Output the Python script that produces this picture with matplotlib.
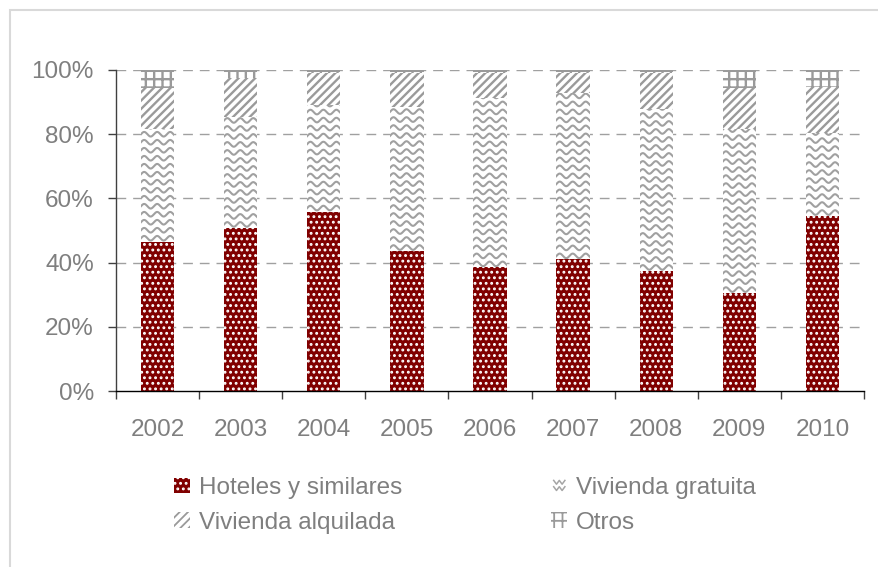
import numpy as np
import matplotlib
matplotlib.use("Agg")
import matplotlib.pyplot as plt
from matplotlib.patches import Rectangle
from matplotlib.lines import Line2D
from matplotlib.legend_handler import HandlerBase
from matplotlib.ticker import FixedLocator, FuncFormatter

# ---- data (percent of total) ----
years = ["2002", "2003", "2004", "2005", "2006", "2007", "2008", "2009", "2010"]
hoteles = [46.5, 50.8, 55.9, 43.6, 38.5, 41.0, 37.4, 30.5, 54.5]
gratuita = [35.1, 34.5, 33.2, 44.8, 52.7, 51.7, 50.4, 51.1, 26.0]
alquilada = [12.9, 12.3, 9.9, 10.6, 7.8, 6.3, 11.2, 12.7, 14.3]
otros = [5.5, 2.4, 1.0, 1.0, 1.0, 1.0, 1.0, 5.7, 5.2]
labels = ["Hoteles y similares", "Vivienda gratuita", "Vivienda alquilada", "Otros"]
yticks = [0, 20, 40, 60, 80, 100]

plt.rcParams['font.family'] = ['Liberation Sans', 'DejaVu Sans']
plt.rcParams['hatch.linewidth'] = 1.3

W, H, DPI = 879, 567, 100
fig = plt.figure(figsize=(W / DPI, H / DPI), dpi=DPI)
ax = fig.add_axes([116 / W, 1 - 391 / H, 748 / W, 321 / H])

TXT = '#7f7f7f'
RED = '#800000'
HATCH_GRAY = '#9a9a9a'
FS = 17.5

x = np.arange(len(years))
width = 0.4
h = np.array(hoteles)
g = np.array(gratuita)
a = np.array(alquilada)
o = np.array(otros)

b1 = ax.bar(x, h, width, color=RED, edgecolor='white', hatch='...', linewidth=0, zorder=2)
b2 = ax.bar(x, g, width, bottom=h, color='white', edgecolor='white', linewidth=0, zorder=2)
b3 = ax.bar(x, a, width, bottom=h + g, color='white', edgecolor=HATCH_GRAY, hatch='////', linewidth=0, zorder=2)
b4 = ax.bar(x, o, width, bottom=h + g + a, color='white', edgecolor=HATCH_GRAY, hatch='++', linewidth=0, zorder=2)

for p in list(b3.patches) + list(b4.patches):
    if hasattr(p, 'set_hatch_linewidth'):
        p.set_hatch_linewidth(1.7)

ax.set_xlim(-0.5, len(years) - 0.5)
ax.set_ylim(0, 100)

# wave pattern for "Vivienda gratuita"
px_x = 748 / len(years)
px_y = 321 / 100.0
spacing_px, wl_px, amp_px = 8.0, 13.0, 2.3
for rect in b2.patches:
    rx, ry, rw, rh = rect.get_x(), rect.get_y(), rect.get_width(), rect.get_height()
    xs = np.linspace(rx - 0.05, rx + rw + 0.05, 200)
    n = int(rh * px_y / spacing_px) + 2
    for k in range(n):
        y0 = ry + (k * spacing_px + 3.5) / px_y
        ys = y0 + amp_px / px_y * np.sin(2 * np.pi * (xs - rx) * px_x / wl_px)
        ln, = ax.plot(xs, ys, color='#a0a0a0', lw=1.5, zorder=3, solid_capstyle='butt')
        ln.set_clip_path(rect)

# grid
for yv in yticks[1:]:
    ax.axhline(yv, color='#a0a0a0', lw=1.0, linestyle=(0, (7, 5)), zorder=1)

# spines & ticks
for s in ['top', 'right']:
    ax.spines[s].set_visible(False)
ax.spines['left'].set_color('#404040')
ax.spines['left'].set_linewidth(1.0)
ax.spines['bottom'].set_color('black')
ax.spines['bottom'].set_linewidth(1.0)

ax.yaxis.set_major_locator(FixedLocator(yticks))
ax.yaxis.set_major_formatter(FuncFormatter(lambda v, p: f"{int(v)}%"))
ax.tick_params(axis='y', direction='out', length=6, width=1, color='#404040',
               labelsize=FS, labelcolor=TXT, pad=10)
ax.set_xticks(x)
ax.set_xticklabels(years)
ax.tick_params(axis='x', which='major', length=0, labelsize=FS, labelcolor=TXT, pad=20)
ax.set_xticks(np.arange(-0.5, len(years)), minor=True)
ax.tick_params(axis='x', which='minor', direction='out', length=6, width=1, color='#404040')


# legend
class HandlerWave(HandlerBase):
    def create_artists(self, legend, orig_handle, xdescent, ydescent, width, height, fontsize, trans):
        arts = []
        r = Rectangle((-xdescent, -ydescent), width, height, facecolor='white', edgecolor='none', transform=trans)
        arts.append(r)
        for k in range(2):
            yy = -ydescent + height * (0.3 + 0.4 * k)
            xs = np.linspace(-xdescent + width * 0.15, -xdescent + width * 0.85, 5)
            ys = yy + np.array([0.15, -0.15, 0.15, -0.15, 0.15]) * height * 0.8
            ln = Line2D(xs, ys, color='#a5a5a5', lw=1.1, transform=trans)
            arts.append(ln)
        return arts


class WaveHandle:
    pass


wave_handle = WaveHandle()
handles = [b1.patches[0], b3.patches[0], wave_handle, b4.patches[0]]
hlabels = [labels[0], labels[2], labels[1], labels[3]]
leg = fig.legend(handles, hlabels, loc='upper left', bbox_to_anchor=(174 / W, 1 - 477 / H),
                 ncol=2, frameon=False, fontsize=FS, handlelength=0.66, handleheight=0.62,
                 handletextpad=0.35, columnspacing=6.15, labelspacing=0.52,
                 borderpad=0, borderaxespad=0,
                 handler_map={WaveHandle: HandlerWave()})
for t in leg.get_texts():
    t.set_color(TXT)

# figure frame
fig.patches.append(Rectangle((10 / W, -0.05), 1.2, 1 - 10 / H + 0.05, transform=fig.transFigure,
                             facecolor='none', edgecolor='#d9d9d9', lw=1.5))

fig.savefig('out.png', dpi=DPI)
